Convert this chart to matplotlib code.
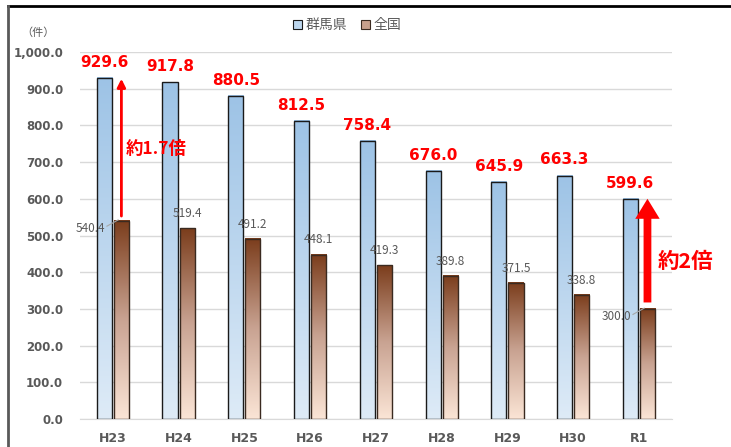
import matplotlib.pyplot as plt
import matplotlib.colors as mcolors
from matplotlib.ticker import FuncFormatter
from matplotlib.lines import Line2D
import numpy as np

plt.rcParams['font.family'] = ['Noto Sans CJK JP', 'DejaVu Sans']

# data
years = ['H23', 'H24', 'H25', 'H26', 'H27', 'H28', 'H29', 'H30', 'R1']
gunma = [929.6, 917.8, 880.5, 812.5, 758.4, 676.0, 645.9, 663.3, 599.6]
zenkoku = [540.4, 519.4, 491.2, 448.1, 419.3, 389.8, 371.5, 338.8, 300.0]
series_names = ['群馬県', '全国']

GRAY = '#595959'
RED = '#FF0000'
BAR_W = 0.23
GAP = 0.03

blue_cmap = mcolors.LinearSegmentedColormap.from_list('b', ['#DEEBF7', '#9DC3E6'])
brown_cmap = mcolors.LinearSegmentedColormap.from_list('br', ['#FBE5D6', '#C9A392', '#7B3D1C'])


def gradient_bar(ax, x, h, cmap, edge):
    grad = np.linspace(0, 1, 256).reshape(-1, 1)
    ax.imshow(grad, cmap=cmap, origin='lower', aspect='auto',
              extent=(x - BAR_W / 2, x + BAR_W / 2, 0, h), zorder=2)
    ax.bar(x, h, width=BAR_W, facecolor='none', edgecolor=edge, linewidth=1.0, zorder=3)


fig = plt.figure(figsize=(7.31, 4.47), dpi=100)
ax = fig.add_axes([0.1094, 0.0626, 0.8096, 0.8211])

pos = np.arange(len(years))
xb = pos - (BAR_W + GAP) / 2
xr = pos + (BAR_W + GAP) / 2

for i in range(len(years)):
    gradient_bar(ax, xb[i], gunma[i], blue_cmap, '#1A1A1A')
    gradient_bar(ax, xr[i], zenkoku[i], brown_cmap, '#3A2A20')

ax.set_xlim(-0.5, 8.5)
ax.set_ylim(0, 1000)
ax.set_yticks(np.arange(0, 1001, 100))
ax.yaxis.set_major_formatter(FuncFormatter(lambda v, p: f'{v:,.1f}'))
ax.set_xticks(pos)
ax.set_xticklabels(years)
ax.grid(axis='y', color='#D9D9D9', linewidth=1.0, zorder=0)
ax.set_axisbelow(True)
for s in ['top', 'right', 'left']:
    ax.spines[s].set_visible(False)
ax.spines['bottom'].set_color('#D9D9D9')
ax.tick_params(axis='y', length=0, colors=GRAY, labelsize=8.5, pad=12)
ax.tick_params(axis='x', length=0, colors=GRAY, labelsize=9, pad=9)
for t in ax.get_xticklabels() + ax.get_yticklabels():
    t.set_fontweight('bold')
    t.set_fontfamily('DejaVu Sans')

# value labels
for i in range(len(years)):
    ax.text(xb[i], gunma[i] + 22, f'{gunma[i]:.1f}', color=RED, fontsize=11,
            fontweight='bold', ha='center', va='bottom', family='DejaVu Sans')
for i in range(1, len(years) - 1):
    ax.text(xr[i], zenkoku[i] + 22, f'{zenkoku[i]:.1f}', color=GRAY, fontsize=8.5,
            ha='center', va='bottom')
# labels with leader lines for first and last
for i in [0, len(years) - 1]:
    ax.text(xr[i] - 0.24, zenkoku[i] - 22, f'{zenkoku[i]:.1f}', color=GRAY, fontsize=8.5,
            ha='right', va='center')
    ax.plot([xr[i] - 0.22, xr[i] - 0.05], [zenkoku[i] - 15, zenkoku[i] + 2],
            color='#A6A6A6', linewidth=0.8, zorder=4)

# arrows
ax.annotate('', xy=(xr[0], gunma[0] + 5), xytext=(xr[0], zenkoku[0] + 5),
            arrowprops=dict(arrowstyle='-|>', color=RED, lw=2, mutation_scale=12), zorder=5)
ax.text(xr[0] + 0.07, 735, '約1.7倍', color=RED, fontsize=12.5, fontweight='bold',
        ha='left', va='center')
ax.annotate('', xy=(xr[-1], gunma[-1] + 8), xytext=(xr[-1], zenkoku[-1] + 10),
            arrowprops=dict(arrowstyle='simple,head_length=0.9,head_width=1.1,tail_width=0.35',
                            color=RED, mutation_scale=16, lw=0), zorder=5)
ax.text(xr[-1] + 0.15, 430, '約2倍', color=RED, fontsize=15.5, fontweight='bold',
        ha='left', va='center', clip_on=False)

# legend
handles = [plt.Rectangle((0, 0), 1, 1, facecolor='#BDD7EE', edgecolor='#1A1A1A', lw=0.8),
           plt.Rectangle((0, 0), 1, 1, facecolor='#C8A08C', edgecolor='#3A2A20', lw=0.8)]
fig.legend(handles, series_names, loc='center', bbox_to_anchor=(0.475, 0.943), ncol=2,
           frameon=False, fontsize=10, labelcolor=GRAY, handlelength=0.65, handleheight=0.65,
           handletextpad=0.25, columnspacing=1.0)

fig.text(38 / 731, 1 - 33 / 447, '（件）', color=GRAY, fontsize=8, ha='center', va='center')

# outer frame
fig.add_artist(Line2D([8 / 731, 1], [1 - 6 / 447, 1 - 6 / 447], color='#000000', lw=2))
fig.add_artist(Line2D([8 / 731, 8 / 731], [0, 1 - 6 / 447], color='#595959', lw=2))

fig.savefig('out.png', dpi=100)
